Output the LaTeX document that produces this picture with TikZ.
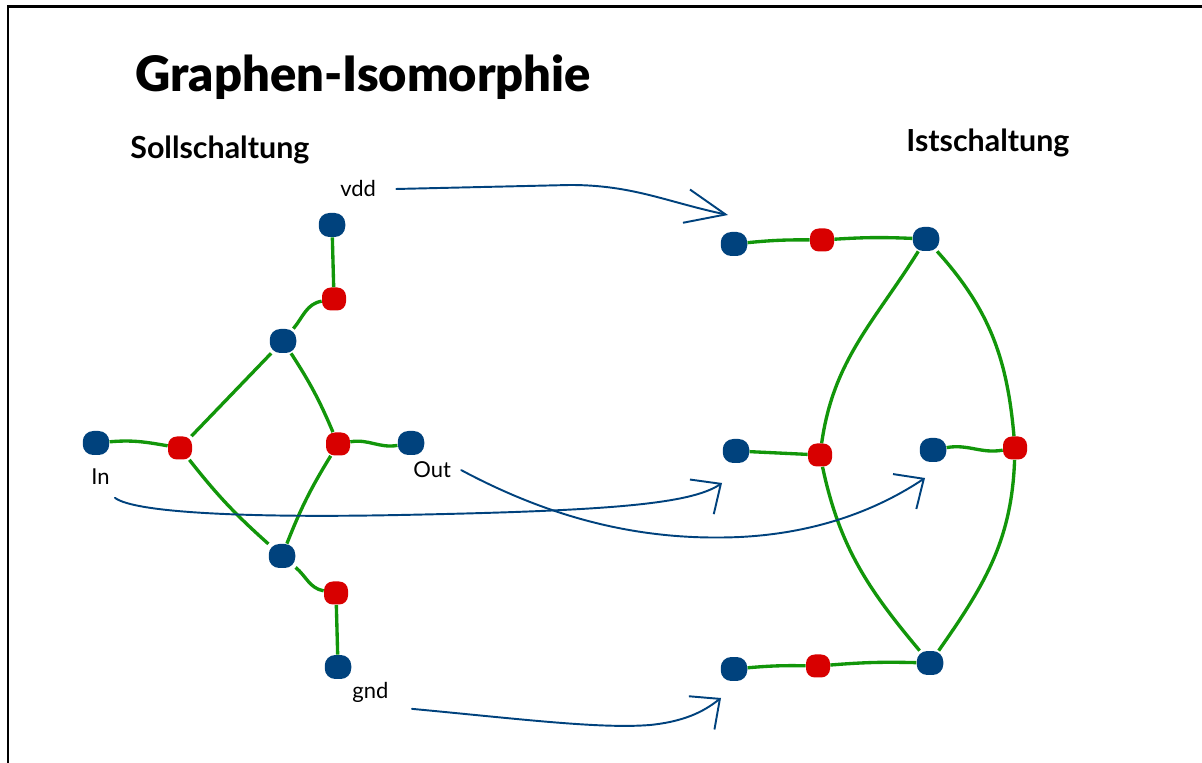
\documentclass[tikz,border=0pt]{standalone}
\usepackage{fontspec}
\setmainfont{Lato}
\IfFontExistsTF{Lato Black}{\newfontfamily\heavyfont{Lato Black}}{\newcommand\heavyfont{\bfseries}}
\usepackage{xcolor}
\usetikzlibrary{arrows.meta}

\definecolor{netblue}{RGB}{0,66,125}
\definecolor{devred}{RGB}{216,0,0}
\definecolor{wiregreen}{RGB}{18,150,10}

\tikzset{
  netdot/.style={rectangle, rounded corners=6pt, fill=netblue, minimum width=0.53cm, minimum height=0.48cm, inner sep=0pt},
  devdot/.style={rectangle, rounded corners=5pt, fill=devred, minimum width=0.48cm, minimum height=0.46cm, inner sep=0pt},
  wire/.style={draw=wiregreen, line width=1.9pt},
  mapline/.style={draw=netblue, line width=1.1pt, line cap=round, -{Straight Barb[length=0.46cm, width=0.84cm]}},
  lbl/.style={font=\fontsize{12.5}{14}\selectfont, inner sep=0pt, anchor=base west}
}

\begin{document}
\begin{tikzpicture}[x=0.02cm, y=0.02cm]

\useasboundingbox (0,0) rectangle (1202,763);

% frame
\draw[line width=1.7pt] (8,0) -- (8,756) -- (1202,756);

% headings
\node[anchor=base west, inner sep=0pt, font=\heavyfont\fontsize{27.8}{30}\selectfont] (title) at (135,671) {Graphen-Isomorphie};
\node[anchor=base west, inner sep=0pt, font=\bfseries\fontsize{17.3}{20}\selectfont] (soll) at (130,604) {Sollschaltung};
\node[anchor=base west, inner sep=0pt, font=\bfseries\fontsize{17.3}{20}\selectfont] (ist) at (906,611) {Istschaltung};

% Sollschaltung
\node[netdot] (vdd) at (332,538) {};
\node[devdot] (p1) at (334,464) {};
\node[netdot] (mid) at (283,422) {};
\node[devdot] (p2) at (180,315) {};
\node[netdot] (in) at (96,320) {};
\node[devdot] (p3) at (338,319) {};
\node[netdot] (out) at (411,320) {};
\node[netdot] (low) at (282,207) {};
\node[devdot] (p4) at (336,170) {};
\node[netdot] (gnd) at (338,96) {};

\node[lbl] (lvdd) at (340,566) {vdd};
\node[lbl] (lin) at (91,278) {In};
\node[lbl] (lout) at (413,285) {Out};
\node[lbl] (lgnd) at (352,64) {gnd};

\draw[wire] (vdd) -- (p1);
\draw[wire] (p1) to[out=190, in=50] (mid);
\draw[wire] (mid) -- (p2);
\draw[wire] (mid) to[bend left=5] (p3);
\draw[wire] (in) to[out=5, in=170] (p2);
\draw[wire] (p3) to[out=10, in=190] (out);
\draw[wire] (p2) to[bend right=5] (low);
\draw[wire] (p3) to[bend right=5] (low);
\draw[wire] (low) to[out=-40, in=170] (p4);
\draw[wire] (p4) -- (gnd);

% Istschaltung
\node[netdot] (a1) at (734,519) {};
\node[devdot] (b1) at (822,523) {};
\node[netdot] (a2) at (926,524) {};
\node[netdot] (a3) at (736,312) {};
\node[devdot] (b2) at (820,308) {};
\node[netdot] (a4) at (933,313) {};
\node[devdot] (b3) at (1015,315) {};
\node[netdot] (a5) at (734,94) {};
\node[devdot] (b4) at (818,97) {};
\node[netdot] (a6) at (930,100) {};

\draw[wire] (a1) to[bend left=3] (b1);
\draw[wire] (b1) to[bend left=3] (a2);
\draw[wire] (a2) to[out=238, in=82] (b2);
\draw[wire] (a2) to[out=-48, in=95] (b3);
\draw[wire] (a3) -- (b2);
\draw[wire] (a4) to[out=10, in=190] (b3);
\draw[wire] (b2) to[out=-78, in=130] (a6);
\draw[wire] (b3) to[out=-92, in=55] (a6);
\draw[wire] (a5) to[bend left=3] (b4);
\draw[wire] (b4) to[bend left=3] (a6);

% mapping arrows
\coordinate (tvdd) at (728,548);
\coordinate (tin) at (722,280);
\coordinate (tout) at (925,285);
\coordinate (tgnd) at (721,65);

\draw[mapline, -{Straight Barb[length=0.8cm, width=0.68cm]}] ([xshift=0.4cm]lvdd.east) -- (570,578) to[out=0, in=168] (tvdd);
\draw[mapline] ([shift={(0.1cm,-0.25cm)}]lin.south east) .. controls (135,250) and (250,245) .. (400,248) .. controls (600,252) and (690,258) .. (tin);
\draw[mapline] ([xshift=0.2cm]lout.east) .. controls (560,240) and (650,222) .. (740,226) .. controls (820,230) and (880,255) .. (tout);
\draw[mapline] ([shift={(1.2cm,-0.11cm)}]lgnd.south west) .. controls (520,44) and (600,34) .. (650,38) .. controls (690,42) and (708,55) .. (tgnd);

\end{tikzpicture}
\end{document}
